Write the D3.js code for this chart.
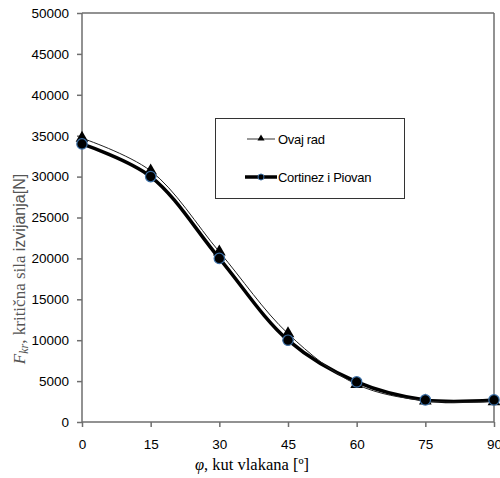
<!DOCTYPE html>
<html>
<head>
<meta charset="utf-8">
<script src="https://cdn.jsdelivr.net/npm/d3@7"></script>
<style>
  html, body { margin: 0; padding: 0; background: #fff; }
  svg { display: block; }
</style>
</head>
<body>
<svg id="chart" width="500" height="478"></svg>
<script>
const angles = [0, 15, 30, 45, 60, 75, 90];
const ovajRad = [34700, 30700, 20800, 10800, 4600, 2600, 2500];
const cortinez = [34000, 30000, 20000, 10000, 4900, 2700, 2700];
const xTicks = [0, 15, 30, 45, 60, 75, 90];
const yTicks = [0, 5000, 10000, 15000, 20000, 25000, 30000, 35000, 40000, 45000, 50000];
const seriesNames = ["Ovaj rad", "Cortinez i Piovan"];

const svg = d3.select("#chart");
const m = { left: 82, right: 494, top: 13, bottom: 422 };
const x = d3.scaleLinear().domain([0, 90]).range([m.left, m.right]);
const y = d3.scaleLinear().domain([0, 50000]).range([m.bottom, m.top]);
const axisColor = "#6e6e6e";

// frame top and right
svg.append("line").attr("x1", m.left).attr("x2", m.right).attr("y1", m.top).attr("y2", m.top)
  .attr("stroke", axisColor).attr("stroke-width", 1.5);
svg.append("line").attr("x1", m.right).attr("x2", m.right).attr("y1", m.top).attr("y2", m.bottom)
  .attr("stroke", axisColor).attr("stroke-width", 1.5);

// axes
const yAxis = svg.append("g").attr("transform", `translate(${m.left},0)`)
  .call(d3.axisLeft(y).tickValues(yTicks).tickFormat(d3.format("d")).tickSize(5).tickPadding(8));
const xAxis = svg.append("g").attr("transform", `translate(0,${m.bottom})`)
  .call(d3.axisBottom(x).tickValues(xTicks).tickFormat(d3.format("d")).tickSize(5).tickPadding(12));
[yAxis, xAxis].forEach(a => {
  a.select(".domain").attr("stroke", axisColor).attr("stroke-width", 1.5);
  a.selectAll(".tick line").attr("stroke", axisColor).attr("stroke-width", 1.5);
  a.selectAll(".tick text").attr("fill", "#000")
    .style("font-family", "'Liberation Sans', Arial, sans-serif").style("font-size", "13.5px");
});
yAxis.select(".domain").attr("d", `M0,${m.bottom}V${m.top}`);
xAxis.select(".domain").attr("d", `M${m.left},0H${m.right}`);

// curves
const line = d3.line().x((d, i) => x(angles[i])).y(d => y(d)).curve(d3.curveCatmullRom.alpha(0.5));
svg.append("path").datum(cortinez).attr("d", line).attr("fill", "none")
  .attr("stroke", "#000").attr("stroke-width", 3.5);
svg.append("path").datum(ovajRad).attr("d", line).attr("fill", "none")
  .attr("stroke", "#222").attr("stroke-width", 1);

const tri = d3.symbol().type(d3.symbolTriangle).size(70);
svg.append("g").selectAll("path").data(ovajRad).join("path")
  .attr("d", tri)
  .attr("transform", (d, i) => `translate(${x(angles[i])},${y(d)})`)
  .attr("fill", "#000");
svg.append("g").selectAll("circle").data(cortinez).join("circle")
  .attr("cx", (d, i) => x(angles[i])).attr("cy", d => y(d)).attr("r", 5.2)
  .attr("fill", "#000").attr("stroke", "#3a6ea5").attr("stroke-width", 1.2);

// legend
const lg = svg.append("g");
lg.append("rect").attr("x", 215.5).attr("y", 118.5).attr("width", 189).attr("height", 80)
  .attr("fill", "#fff").attr("stroke", "#333").attr("stroke-width", 1);
lg.append("line").attr("x1", 247).attr("x2", 275).attr("y1", 139).attr("y2", 139)
  .attr("stroke", "#777").attr("stroke-width", 1.5);
lg.append("path").attr("d", d3.symbol().type(d3.symbolTriangle).size(22)).attr("transform", "translate(261,138.5)").attr("fill", "#000");
lg.append("line").attr("x1", 245).attr("x2", 277).attr("y1", 177).attr("y2", 177)
  .attr("stroke", "#000").attr("stroke-width", 3.5);
lg.append("circle").attr("cx", 261).attr("cy", 177).attr("r", 3).attr("fill", "#000")
  .attr("stroke", "#3a6ea5").attr("stroke-width", 1);
lg.selectAll("text").data(seriesNames).join("text")
  .attr("x", 278).attr("y", (d, i) => i === 0 ? 143.5 : 181.5)
  .attr("fill", "#000").style("font-family", "'Liberation Sans', Arial, sans-serif")
  .style("font-size", "13px").style("letter-spacing", "-0.3px").text(d => d);

// x title
const xt = svg.append("text").attr("x", 252).attr("y", 470).attr("text-anchor", "middle")
  .style("font-family", "'Liberation Serif', 'Times New Roman', serif").style("font-size", "16.5px")
  .style("font-weight", "500").attr("fill", "#000");
xt.append("tspan").style("font-style", "italic").text("φ");
xt.append("tspan").text(", kut vlakana [º]");

// y title
const yt = svg.append("text").attr("transform", "translate(25,269) rotate(-90)").attr("text-anchor", "middle")
  .attr("fill", "#555").style("font-size", "17px");
yt.append("tspan").style("font-family", "'Liberation Serif', serif").style("font-style", "italic").text("F");
yt.append("tspan").style("font-family", "'Liberation Serif', serif").style("font-style", "italic")
  .style("font-size", "12px").attr("dy", 3).text("kr");
yt.append("tspan").style("font-family", "'Liberation Serif', serif").attr("dy", -3).text(", kritična sila ");
yt.append("tspan").style("font-family", "'Liberation Sans', Arial, sans-serif").style("font-size", "16px").text("izvijanja[N]");
</script>
</body>
</html>
